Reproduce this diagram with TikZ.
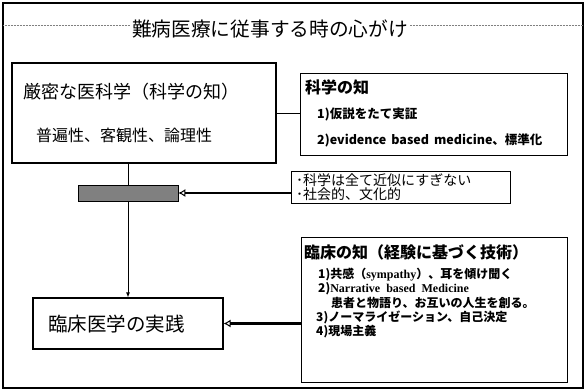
\documentclass[tikz,border=0pt]{standalone}
\usepackage{fontspec}
\setmainfont{Noto Sans CJK JP}
\newfontfamily\serifen{Liberation Serif}
\usetikzlibrary{arrows.meta}
\definecolor{stip}{RGB}{128,128,128}
\tikzset{
  box/.style={draw=black, line width=0.8pt, fill=white, inner sep=0pt},
  txt/.style={anchor=west, inner sep=0pt},
  conn/.style={draw=black, line width=0.8pt},
  thickarrow/.style={draw=black, line width=2.2pt, -{Latex[open, length=7pt, width=8pt, line width=1pt]}},
  thinarrow/.style={draw=black, line width=0.8pt, -{Latex[length=5pt, width=4pt]}}
}
\begin{document}
\begin{tikzpicture}[x=1pt, y=-1pt]
\useasboundingbox (0,0) rectangle (586,391);
% outer frame
\draw[line width=1.3pt] (3,3) rectangle (583,388);
\draw[gray, line width=0.5pt, densely dotted] (3,25) -- (583,25);
\node[fill=white, inner sep=2pt] (title) at (270,29) {\fontsize{19.7pt}{22pt}\selectfont 難病医療に従事する時の心がけ};

% boxes
\node[box, line width=1.6pt, minimum width=264pt, minimum height=100pt] (b1) at (144,113) {};
\node[box, minimum width=267pt, minimum height=82pt] (b2) at (433.5,114) {};
\node[box, minimum width=219pt, minimum height=32pt] (b3) at (400.5,187) {};
\node[box, minimum width=266pt, minimum height=145pt] (b4) at (434,309.5) {};
\node[box, line width=1.3pt, minimum width=190pt, minimum height=51pt] (b5) at (128,323.5) {};
\node[draw=black, line width=0.8pt, fill=stip, minimum width=100pt, minimum height=16pt, inner sep=0pt] (g) at (128,193) {};

% texts
\node[txt] (t1a) at (23,92) {\fontsize{18pt}{20pt}\selectfont 厳密な医科学（科学の知）};
\node[txt] (t1b) at (36,135) {\fontsize{16pt}{18pt}\selectfont 普遍性、客観性、論理性};

\node[txt] (t2a) at (305,87) {\fontsize{16pt}{18pt}\selectfont\bfseries 科学の知};
\node[txt] (t2b) at (317,114) {\fontsize{12.5pt}{14pt}\selectfont\bfseries 1)仮説をたて実証};
\node[txt] (t2c) at (317,140) {\fontsize{12.5pt}{14pt}\selectfont\bfseries 2)evidence\hspace{5pt}based\hspace{5pt}medicine、標準化};

\node[txt] (t3a) at (296,180) {\fontsize{14pt}{16pt}\selectfont ･科学は全て近似にすぎない};
\node[txt] (t3b) at (296,194) {\fontsize{14pt}{16pt}\selectfont ･社会的、文化的};

\node[txt] (t4a) at (304,252) {\fontsize{16pt}{18pt}\selectfont\bfseries 臨床の知（経験に基づく技術）};
\node[txt] (t4b) at (318,275) {\fontsize{12pt}{14pt}\selectfont\bfseries 1)共感（{\serifen sympathy}）、耳を傾け聞く};
\node[txt] (t4c) at (318,289) {\fontsize{12pt}{14pt}\selectfont\bfseries 2){\serifen Narrative\hspace{6pt}based\hspace{6pt}Medicine}};
\node[txt] (t4d) at (331,303) {\fontsize{12pt}{14pt}\selectfont\bfseries 患者と物語り、お互いの人生を創る。};
\node[txt] (t4e) at (316,317) {\fontsize{12pt}{14pt}\selectfont\bfseries 3)ノーマライゼーション、自己決定};
\node[txt] (t4f) at (316,332) {\fontsize{12pt}{14pt}\selectfont\bfseries 4)現場主義};

\node[txt] (t5) at (48,324) {\fontsize{19.5pt}{22pt}\selectfont 臨床医学の実践};

% connectors
\draw[conn] (b1.east) -- (b1.east -| b2.west);
\draw[conn] (g.north |- b1.south) -- (g.north);
\draw[thinarrow] (g.south) -- (g.south |- b5.north);
\draw[thickarrow] (b3.west |- g.east) -- (g.east);
\draw[thickarrow] (b4.west |- b5.east) -- (b5.east);
\end{tikzpicture}
\end{document}
